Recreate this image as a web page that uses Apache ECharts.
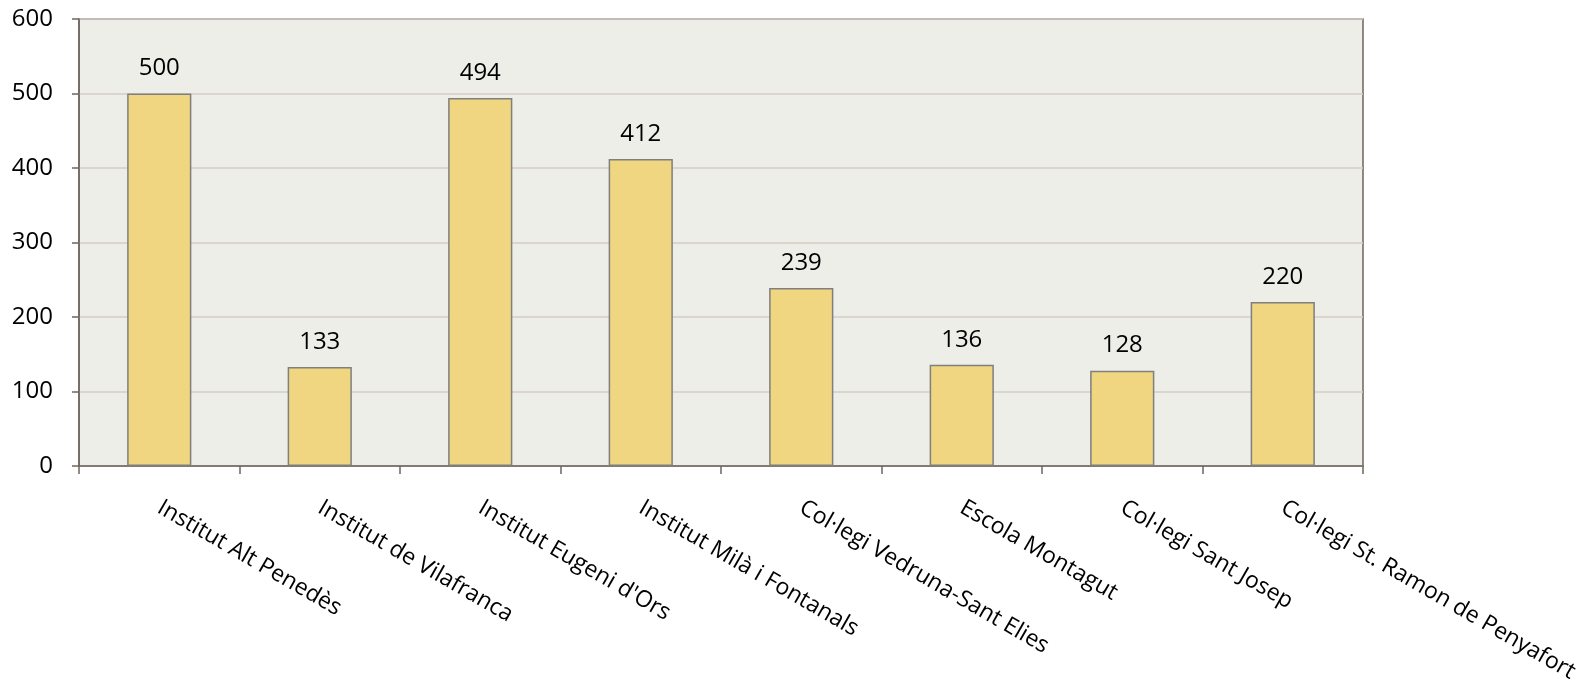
<!DOCTYPE html>
<html>
<head>
<meta charset="utf-8">
<script src="https://cdn.jsdelivr.net/npm/echarts@6/dist/echarts.min.js"></script>
<style>
html,body{margin:0;padding:0;background:#fff;}
#chart{width:1587px;height:686px;}
</style>
</head>
<body>
<div id="chart"></div>
<script>
const categories = ["Institut Alt Penedès","Institut de Vilafranca","Institut Eugeni d'Ors","Institut Milà i Fontanals","Col·legi Vedruna-Sant Elies","Escola Montagut","Col·legi Sant Josep","Col·legi St. Ramon de Penyafort"];
const values = [500,133,494,412,239,136,128,220];
const yMin = 0, yMax = 600, yStep = 100;

const FONT = "Open Sans";
const chart = echarts.init(document.getElementById('chart'));
chart.setOption({
  animation: false,
  grid: {left: 79, right: 224, top: 19, bottom: 220, show: true, backgroundColor: '#eceee7', borderColor: '#6e655f', borderWidth: 1.5},
  xAxis: {
    type: 'category', data: categories, boundaryGap: true,
    axisLine: {lineStyle: {color: '#6e655f', width: 1.5}},
    axisTick: {show: true, length: 8, lineStyle: {color: '#6e655f', width: 1.5}},
    axisLabel: {rotate: -30, margin: 40, interval: 0, color: '#000', fontFamily: FONT, fontSize: 23}
  },
  yAxis: {
    type: 'value', min: yMin, max: yMax, interval: yStep,
    axisLine: {show: true, lineStyle: {color: '#6e655f', width: 1.5}},
    axisTick: {show: true, length: 7, lineStyle: {color: '#6e655f', width: 1.5}},
    axisLabel: {margin: 26, color: '#000', fontFamily: FONT, fontSize: 24},
    splitLine: {show: true, lineStyle: {color: '#d4ccc7', width: 1.5}}
  },
  series: [{
    type: 'bar', data: values, barCategoryGap: '60%',
    itemStyle: {color: '#f0d680', borderColor: '#7f7f7f', borderWidth: 1.5},
    label: {show: true, position: 'top', distance: 13, color: '#000', fontFamily: FONT, fontSize: 24}
  }]
});
</script>
</body>
</html>
